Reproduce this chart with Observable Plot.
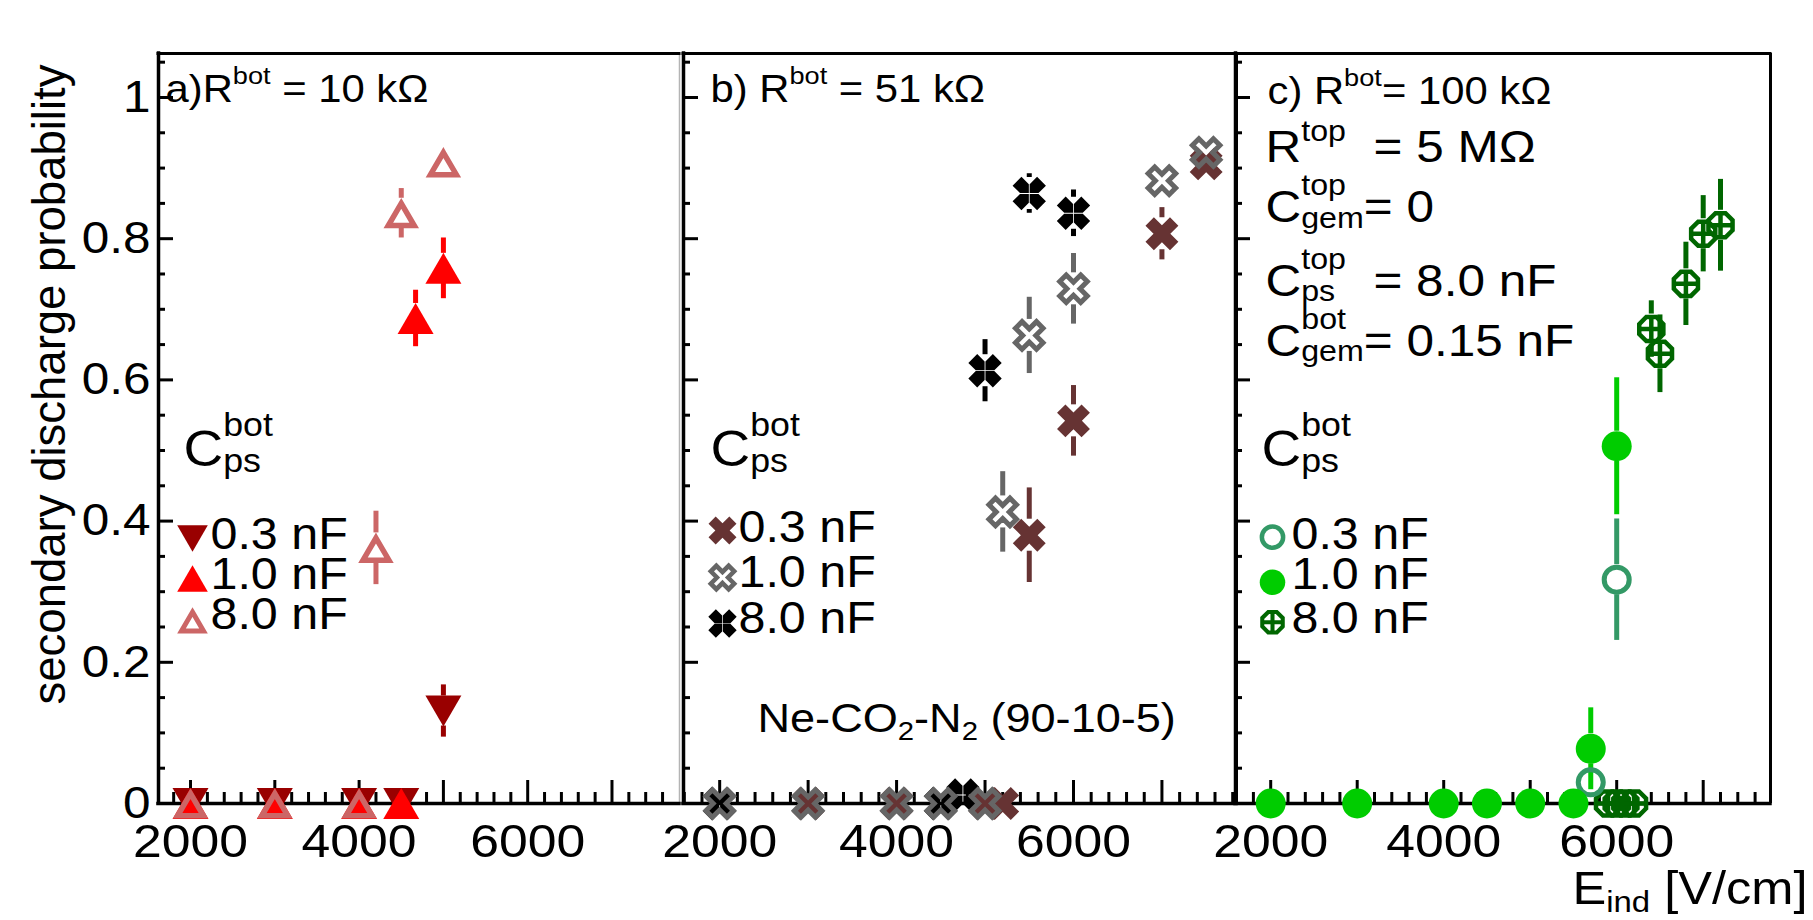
<!DOCTYPE html>
<html><head><meta charset="utf-8">
<script src="https://cdn.jsdelivr.net/npm/d3@7"></script>
<script src="https://cdn.jsdelivr.net/npm/@observablehq/plot@0.6"></script>
<style>
html,body{margin:0;padding:0;background:#fff;}
#chart{position:relative;width:1813px;height:920px;overflow:hidden;background:#fff;}
#chart svg{position:absolute;top:0;overflow:visible;background:transparent;}
</style></head><body><div id="chart"></div>
<script>
// ---------------- data ----------------
const capLabels = ["0.3 nF", "1.0 nF", "8.0 nF"];
const panelTitles = ["a)R^{bot} = 10 kΩ", "b) R^{bot} = 51 kΩ", "c) R^{bot}= 100 kΩ"];
const paramLines = ["R^{top}  = 5 MΩ", "C^{top}_{gem}= 0", "C^{top}_{ps}  = 8.0 nF", "C^{bot}_{gem}= 0.15 nF"];
const legendTitle = "C^{bot}_{ps}";
const gasLabel = "Ne-CO_{2}-N_{2} (90-10-5)";
const xTitle = "E_{ind} [V/cm]";
const yTitle = "secondary discharge probability";
const xTickLabels = [2000, 4000, 6000];
const yTickLabels = [0, 0.2, 0.4, 0.6, 0.8, 1];

// panel a) R_bot = 10 kOhm
const a03X = [2000, 3000, 4000, 4500, 5000];
const a03Y = [0, 0, 0, 0, 0.131];
const a03E = [0, 0, 0, 0, 0.037];
const a10X = [2000, 3000, 4000, 4500, 4670, 5000];
const a10Y = [0, 0, 0, 0, 0.687, 0.758];
const a10E = [0, 0, 0, 0, 0.040, 0.043];
const a80X = [2000, 3000, 4000, 4200, 4500, 5000];
const a80Y = [0, 0, 0, 0.362, 0.836, 0.908];
const a80E = [0, 0, 0, 0.052, 0.035, 0.020];

// panel b) R_bot = 51 kOhm
const b03X = [3000, 4000, 5000, 5200, 5500, 6000, 7000, 7500];
const b03Y = [0, 0, 0, 0, 0.380, 0.542, 0.807, 0.906];
const b03E = [0, 0, 0, 0, 0.067, 0.050, 0.037, 0.020];
const b10X = [2000, 3000, 4000, 4500, 5000, 5200, 5500, 6000, 7000, 7500];
const b10Y = [0, 0, 0, 0, 0, 0.413, 0.663, 0.729, 0.882, 0.922];
const b10E = [0, 0, 0, 0, 0, 0.057, 0.054, 0.050, 0.020, 0.020];
const b80X = [2000, 4500, 4750, 5000, 5500, 6000];
const b80Y = [0, 0, 0.012, 0.613, 0.864, 0.836];
const b80E = [0, 0, 0.010, 0.044, 0.028, 0.033];

// panel c) R_bot = 100 kOhm
const c03X = [5700, 6000];
const c03Y = [0.030, 0.317];
const c03E = [0.020, 0.086];
const c10X = [2000, 3000, 4000, 4500, 5000, 5500, 5700, 6000];
const c10Y = [0, 0, 0, 0, 0, 0, 0.0775, 0.506];
const c10E = [0, 0, 0, 0, 0, 0, 0.058, 0.097];
const c80X = [5900, 6000, 6100, 6200, 6400, 6500, 6800, 7000, 7200];
const c80Y = [0, 0, 0, 0, 0.672, 0.637, 0.736, 0.807, 0.819];
const c80E = [0, 0, 0, 0, 0.040, 0.055, 0.059, 0.054, 0.065];

// ---------------- styling ----------------
const FONT = "'Liberation Sans', Arial, Helvetica, sans-serif";
const SX = 1.1;          // horizontal text stretch of the original figure
const YMAX = 1.0623;
const H = 920, MT = 53, MB = 117;
const FH = H - MT - MB;
const PXU = FH / YMAX;

// custom ROOT-like marker symbols
const rad = s => Math.sqrt(s / Math.PI);
const triUp = {draw(c, s) { const r = rad(s); c.moveTo(0, -0.86 * r); c.lineTo(r, 0.86 * r); c.lineTo(-r, 0.86 * r); c.closePath(); }};
const triDown = {draw(c, s) { const r = rad(s); c.moveTo(0, 0.86 * r); c.lineTo(r, -0.86 * r); c.lineTo(-r, -0.86 * r); c.closePath(); }};
const triOpen = {draw(c, s) { const r = rad(s); c.moveTo(0, -0.55 * r); c.lineTo(0.72 * r, 0.68 * r); c.lineTo(-0.72 * r, 0.68 * r); c.closePath(); }};
function xPoly(c, L, a) {
  const pts = [[a,a],[L,a],[L,-a],[a,-a],[a,-L],[-a,-L],[-a,-a],[-L,-a],[-L,a],[-a,a],[-a,L],[a,L]];
  const k = Math.SQRT1_2;
  pts.forEach(([x, y], i) => { const X = (x - y) * k, Y = (x + y) * k; i ? c.lineTo(X, Y) : c.moveTo(X, Y); });
  c.closePath();
}
const crossX = {draw(c, s) { const r = rad(s); xPoly(c, 1.05 * r, 0.36 * r); }};
const crossXOpen = {draw(c, s) { const r = rad(s); xPoly(c, 0.9 * r, 0.28 * r); }};
const fourX = {draw(c, s) {
  const r = rad(s), L = 1.05 * r, a = 0.38 * r, h = 0.035 * r;
  const piece = [[h, 0], [a + h, -a], [L, -a], [L, a], [a + h, a]];
  for (let q = 0; q < 4; q++) {
    const ang = q * Math.PI / 2 + Math.PI / 4, co = Math.cos(ang), si = Math.sin(ang);
    piece.forEach(([x, y], i) => { const X = x * co - y * si, Y = x * si + y * co; i ? c.lineTo(X, Y) : c.moveTo(X, Y); });
    c.closePath();
  }
}};
const octPlus = {draw(c, s) {
  const r = rad(s), R = 0.87 * r;
  for (let i = 0; i < 8; i++) { const t = Math.PI / 8 + i * Math.PI / 4; i ? c.lineTo(R * Math.cos(t), R * Math.sin(t)) : c.moveTo(R * Math.cos(t), R * Math.sin(t)); }
  c.closePath();
  const q = R * Math.cos(Math.PI / 8);
  c.moveTo(-q, 0); c.lineTo(q, 0); c.moveTo(0, -q); c.lineTo(0, q);
}};

function series(x, y, e, cap, look) { return {x, y, e, cap, ...look}; }

const panels = [
  { left: 0, width: 700, mL: 158, mR: 21, xDomain: [1620, 7801], right: {stroke: "#b4b4b4", w: 1.5}, yAxis: true,
    series: [
      series(a03X, a03Y, a03E, 0, {symbol: triDown, r: 18, fill: "#990000", stroke: "none", sw: 0, color: "#990000", gap: 15}),
      series(a10X, a10Y, a10E, 1, {symbol: triUp, r: 18, fill: "#ff0000", stroke: "none", sw: 0, color: "#ff0000", gap: 15}),
      series(a80X, a80Y, a80E, 2, {symbol: triOpen, r: 18, fill: "none", stroke: "#cc6666", sw: 5.5, color: "#cc6666", gap: 15})
    ],
    title: {dx: 7, dy: 48.7}, header: {dx: 25, dy: 412},
    legend: {mx: 34, tx: 52, ty: [495.3, 535.3, 575.3], my: [485, 525, 567]} },
  { left: 640, width: 620, mL: 43, mR: 24, xDomain: [1591, 7843], right: {stroke: "#000", w: 3},
    series: [
      series(b03X, b03Y, b03E, 0, {symbol: crossX, r: 16.5, fill: "#663333", stroke: "none", sw: 0, color: "#663333", gap: 16}),
      series(b80X, b80Y, b80E, 2, {symbol: fourX, r: 16.5, fill: "#000000", stroke: "none", sw: 0, color: "#000000", gap: 16}),
      series(b10X, b10Y, b10E, 1, {symbol: crossXOpen, r: 16.5, fill: "none", stroke: "#666666", sw: 5, color: "#666666", gap: 16})
    ],
    title: {dx: 27, dy: 48.7}, header: {dx: 27, dy: 412}, gas: {dx: 74, dy: 678.7},
    legend: {mx: 39, tx: 55, ty: [488.7, 533.7, 579.7], my: [477, 524, 570]} },
  { left: 1200, width: 613, mL: 35, mR: 43, xDomain: [1593, 7778], right: {stroke: "#000", w: 3},
    series: [
      series(c80X, c80Y, c80E, 2, {symbol: octPlus, r: 15, fill: "none", stroke: "#006600", sw: 4.5, color: "#006600", gap: 15}),
      series(c03X, c03Y, c03E, 0, {symbol: "circle", r: 12.5, fill: "none", stroke: "#339966", sw: 5, color: "#339966", gap: 15}),
      series(c10X, c10Y, c10E, 1, {symbol: "circle", r: 15, fill: "#00cc00", stroke: "none", sw: 0, color: "#00cc00", gap: 15})
    ],
    title: {dx: 32, dy: 50.3}, params: {dx: 30, dy: [108.7, 168.7, 242, 302]}, header: {dx: 26, dy: 412},
    xTitle: {dx: 337, dy: 100},
    legend: {mx: 37, tx: 56, ty: [495, 535, 579.7], my: [483.7, 528.7, 568.7]} }
];

function errSegments(s) {
  const g = s.gap / PXU, out = [];
  s.x.forEach((x, i) => {
    const y = s.y[i], e = s.e[i];
    if (e > g) { out.push({x, y1: y + g, y2: y + e}); out.push({x, y1: y - e, y2: y - g}); }
  });
  return out;
}

function makePanel(p, idx) {
  const fw = p.width - p.mL - p.mR;
  const [x0, x1] = p.xDomain;
  const xMajor = d3.range(1000, x1, 1000).filter(v => v > x0);
  const xMinor = d3.range(1000, x1 - 40, 200).filter(v => v > x0 && v % 1000 !== 0);
  const yAll = d3.range(1, 22).map(i => Math.round(i * 5) / 100);
  const yMajor = yAll.filter((v, i) => (i + 1) % 4 === 0);
  const yMinor = yAll.filter((v, i) => (i + 1) % 4 !== 0);
  const marks = [
    Plot.tickX(xMinor, {x: d => d, insetTop: FH - 11, stroke: "#000", strokeWidth: 3}),
    Plot.tickX(xMajor, {x: d => d, insetTop: FH - 23, stroke: "#000", strokeWidth: 3}),
    Plot.tickY(yMinor, {y: d => d, insetRight: fw - 7, stroke: "#000", strokeWidth: 3}),
    Plot.tickY(yMajor, {y: d => d, insetRight: fw - 15, stroke: "#000", strokeWidth: 3}),
    Plot.ruleX([x1], {stroke: p.right.stroke, strokeWidth: p.right.w}),
    Plot.ruleY([YMAX], {stroke: "#000", strokeWidth: 3, strokeLinecap: "square"}),
    Plot.ruleX([x0], {stroke: "#000", strokeWidth: 3.5, strokeLinecap: "square"}),
    Plot.ruleY([0], {stroke: "#000", strokeWidth: 3.5, strokeLinecap: "square"}),
    Plot.axisX({ticks: xTickLabels, tickSize: 0, tickPadding: 20, fontSize: 47, tickFormat: d => String(d), label: null})
  ];
  if (p.yAxis) {
    marks.push(Plot.axisY({ticks: yTickLabels, tickSize: 0, tickPadding: 8, fontSize: 45, tickFormat: d => String(d), label: null}));
    marks.push(Plot.text([yTitle], {frameAnchor: "left", dx: -94, dy: -44, rotate: -90, textAnchor: "middle", lineAnchor: "bottom", fontSize: 45.5, fill: "#000"}));
  }
  // error bars then markers
  for (const s of p.series) {
    marks.push(Plot.ruleX(errSegments(s), {x: "x", y1: "y1", y2: "y2", stroke: s.color, strokeWidth: 5}));
  }
  for (const s of p.series) {
    const rows = s.x.map((x, i) => ({x, y: s.y[i]}));
    marks.push(Plot.dot(rows, {x: "x", y: "y", symbol: s.symbol, r: s.r, fill: s.fill, stroke: s.stroke, strokeWidth: s.sw, strokeLinejoin: "miter"}));
  }
  // annotations
  const txt = (t, o) => Plot.text([t], {frameAnchor: "top-left", textAnchor: "start", lineAnchor: "bottom", fill: "#000", ...o});
  marks.push(txt(panelTitles[idx], {dx: p.title.dx, dy: p.title.dy, fontSize: 38}));
  marks.push(txt(legendTitle, {dx: p.header.dx, dy: p.header.dy, fontSize: 50}));
  if (p.params) p.params.dy.forEach((dy, i) => marks.push(txt(paramLines[i], {dx: p.params.dx, dy, fontSize: 45})));
  if (p.gas) marks.push(txt(gasLabel, {dx: p.gas.dx, dy: p.gas.dy, fontSize: 41}));
  if (p.xTitle) marks.push(txt(xTitle, {dx: p.xTitle.dx, dy: 750 + p.xTitle.dy, fontSize: 46}));
  // legend
  for (const s of p.series) {
    const k = s.cap;
    marks.push(Plot.dot([k], {frameAnchor: "top-left", dx: p.legend.mx, dy: p.legend.my[k], symbol: s.symbol, r: s.r * 0.85, fill: s.fill, stroke: s.stroke, strokeWidth: s.sw * 0.9, strokeLinejoin: "miter"}));
    marks.push(txt(capLabels[k], {dx: p.legend.tx, dy: p.legend.ty[k], fontSize: 44}));
  }
  const svg = Plot.plot({
    width: p.width, height: H,
    marginLeft: p.mL, marginRight: p.mR, marginTop: MT, marginBottom: MB,
    x: {domain: p.xDomain, axis: null},
    y: {domain: [0, YMAX], axis: null},
    style: {fontFamily: FONT, background: "transparent", overflow: "visible", color: "#000"},
    marks
  });
  svg.style.left = p.left + "px";
  return svg;
}

const chart = document.getElementById("chart");
const svgs = panels.map((p, i) => { const s = makePanel(p, i); chart.appendChild(s); return s; });

// rich text: ^{sup}, _{sub}, with stacking when both follow each other
const NS = "http://www.w3.org/2000/svg";
function richify(svg) {
  svg.querySelectorAll("text").forEach(t => {
    const s = t.textContent;
    if (!/[\^_]\{/.test(s)) return;
    const fs = parseFloat(getComputedStyle(t).fontSize);
    const parts = s.split(/(\^\{[^}]*\}|_\{[^}]*\})/).filter(q => q !== "");
    t.textContent = "";
    let cur = 0;
    const spans = [];
    parts.forEach((q, i) => {
      const sp = document.createElementNS(NS, "tspan");
      let kind = "n", str = q, shift = 0, size = fs;
      const next = parts[i + 1] || "", prev = parts[i - 1] || "";
      if (q.startsWith("^{")) { kind = "sup"; str = q.slice(2, -1); size = 0.65 * fs; shift = next.startsWith("_{") ? -0.6 * fs : -0.47 * fs; }
      else if (q.startsWith("_{")) { kind = "sub"; str = q.slice(2, -1); size = 0.65 * fs; shift = prev.startsWith("^{") ? 0.12 * fs : 0.18 * fs; }
      sp.textContent = str;
      sp.setAttribute("font-size", size);
      if (shift - cur !== 0) sp.setAttribute("dy", shift - cur);
      cur = shift;
      t.appendChild(sp);
      spans.push({sp, kind});
    });
    for (let i = 1; i < spans.length; i++) {
      if (spans[i].kind === "sub" && spans[i - 1].kind === "sup") {
        const wSup = spans[i - 1].sp.getComputedTextLength();
        const wSub = spans[i].sp.getComputedTextLength();
        spans[i].sp.setAttribute("dx", -wSup);
        if (wSup > wSub && spans[i + 1]) spans[i + 1].sp.setAttribute("dx", wSup - wSub);
      }
    }
  });
  // horizontal stretch of non-rotated texts
  svg.querySelectorAll("text").forEach(t => {
    const tr = t.getAttribute("transform") || "";
    if (tr.includes("rotate")) return;
    t.setAttribute("transform", tr + ` scale(${SX},1)`);
  });
}
svgs.forEach(richify);
</script>
</body></html>
